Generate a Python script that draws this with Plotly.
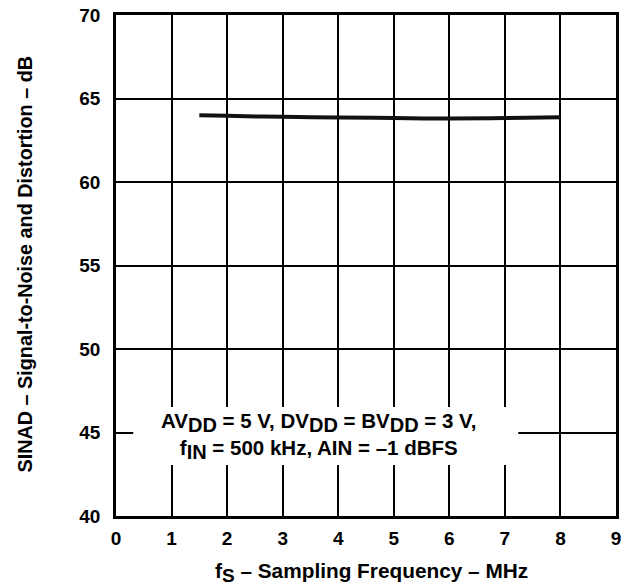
import plotly.graph_objects as go

fs_mhz = [1.5, 2, 3, 4, 5, 6, 7, 8]
sinad_db = [64.0, 63.96, 63.9, 63.86, 63.83, 63.8, 63.83, 63.87]

x_ticks = list(range(0, 10))
y_ticks = [40, 45, 50, 55, 60, 65, 70]

FONT = "Liberation Sans, Arial, sans-serif"


def sub(t, size):
    return "<sub><span style='font-size:%dpx'>%s</span></sub>" % (size, t)


note_lines = ["AV" + sub("DD", 20) + " = 5 V, DV" + sub("DD", 20) + " = BV" + sub("DD", 20) + " = 3 V,",
              "f" + sub("IN", 20) + " = 500 kHz, AIN = –1 dBFS"]
x_title = "f" + sub("S", 19) + " – Sampling Frequency – MHz"
y_title = "SINAD – Signal-to-Noise and Distortion – dB"

fig = go.Figure()
fig.add_trace(go.Scatter(x=fs_mhz, y=sinad_db, mode="lines",
                         line=dict(color="#111111", width=4, shape="spline"),
                         showlegend=False, hoverinfo="skip"))

fig.add_shape(type="rect", xref="x", yref="y", x0=0.31, x1=7.24, y0=43.05, y1=46.53,
              fillcolor="white", line=dict(width=0), layer="above")
fig.add_annotation(x=3.66, y=44.78, xref="x", yref="y",
                   text="<br>".join(note_lines), showarrow=False,
                   font=dict(family=FONT, size=20.5, color="black", weight="bold"),
                   align="center")

# axis titles as annotations for precise placement
fig.add_annotation(x=0.51, y=-0.112, xref="paper", yref="paper", xanchor="center", yanchor="middle",
                   text=x_title, showarrow=False,
                   font=dict(family=FONT, size=20.8, color="black", weight="bold"))
fig.add_annotation(x=-0.182, y=0.502, xref="paper", yref="paper", xanchor="center", yanchor="middle",
                   text=y_title, showarrow=False, textangle=-90,
                   font=dict(family=FONT, size=19.8, color="black", weight="bold"))

axis_common = dict(showline=True, linecolor="black", linewidth=2.5, mirror=True,
                   showgrid=True, gridcolor="black", gridwidth=2,
                   zeroline=False, ticks="",
                   tickfont=dict(family=FONT, size=19, color="black", weight="bold"))

fig.update_xaxes(range=[0, 9], tickvals=x_ticks, ticktext=[str(v) for v in x_ticks],
                 ticklabelstandoff=3, **axis_common)
fig.update_yaxes(range=[40, 70], tickvals=y_ticks, ticktext=[str(v) for v in y_ticks],
                 ticklabelstandoff=9, **axis_common)

fig.update_layout(width=624, height=586,
                  margin=dict(l=116, r=8, t=15, b=70, autoexpand=False),
                  paper_bgcolor="white", plot_bgcolor="white")

fig.write_html("out.html", config={"displayModeBar": False},
               post_script="document.body.style.margin='0';")
